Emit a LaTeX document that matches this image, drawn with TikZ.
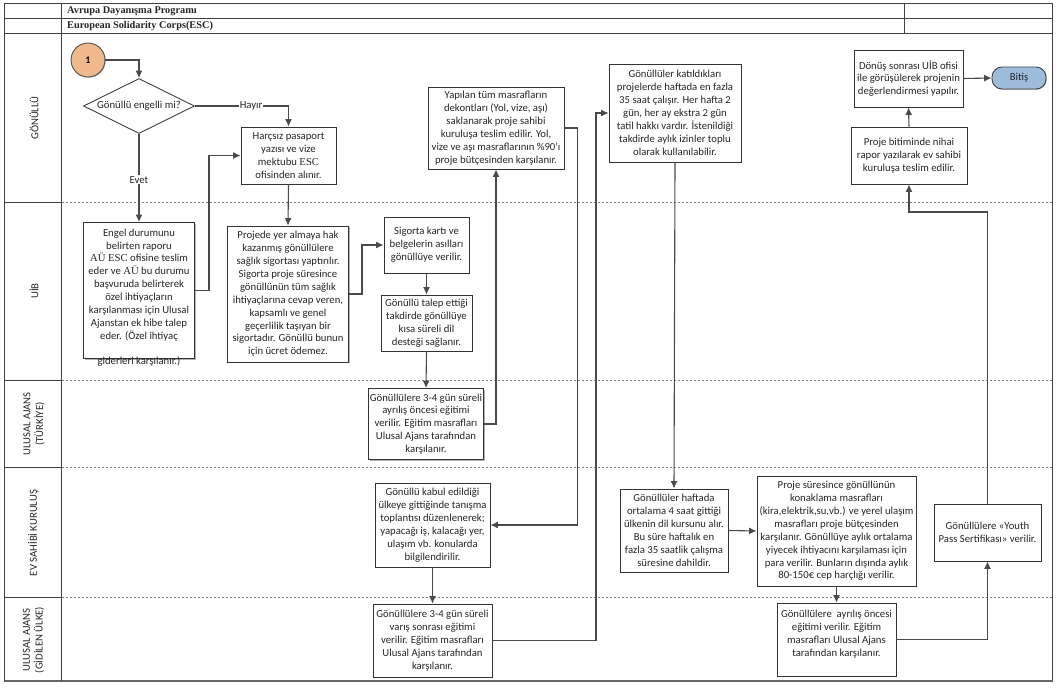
\documentclass[tikz,border=0pt]{standalone}
\usepackage{fontspec}
\setmainfont{Carlito}
\newfontfamily\titlefont{Liberation Serif}
\usetikzlibrary{shadows,shapes.geometric,arrows.meta}
\definecolor{linegray}{HTML}{4A4A4A}
\definecolor{startorange}{HTML}{EFB98B}
\definecolor{endblue}{HTML}{9DBCDC}
\tikzset{
	frame/.style={black!75, line width=1pt},
	lane/.style={black!50, line width=0.9pt, dash pattern=on 2pt off 2pt},
	boxnode/.style={draw=black!80, line width=0.9pt, fill=white, text=black!85, align=center, inner sep=0pt, font=\fontsize{10.7}{12.9}\selectfont, drop shadow={shadow xshift=1pt, shadow yshift=-1pt, fill=black, opacity=0.3}},
	lanetext/.style={rotate=90, align=center, text=black!85, font=\fontsize{10.7}{12.6}\selectfont},
	titletext/.style={anchor=west, inner sep=0pt, text=black!85, font=\titlefont\bfseries\fontsize{10.3}{12}\selectfont},
	arrow/.style={-{Latex[length=7.5pt,width=7pt]}, linegray, line width=1.1pt},
	answer/.style={fill=white, text=black!85, inner sep=1pt, font=\fontsize{10.7}{12}\selectfont}
}
\begin{document}
\begin{tikzpicture}[x=1pt, y=-1pt]
	\useasboundingbox (0,0) rectangle (1058,689);
	
	\draw[frame] (4.5,3) rectangle (1052.5,681);
	\draw[frame] (4.5,18) -- (1052.5,18);
	\draw[frame, line width=1.3pt] (4.5,33.5) -- (1052.5,33.5);
	\draw[frame, line width=1.5pt, black!60] (4.5,681) -- (1052.5,681);
	\draw[frame] (61.5,3) -- (61.5,681);
	\draw[frame] (904,3) -- (904,33.5);
	
	\foreach \y in {202,380,467,597} {
		\draw[frame] (4.5,\y) -- (61.5,\y);
		\draw[lane] (61.5,\y) -- (1052.5,\y);
	}
	
	\node (program) at (67,11) [titletext] {Avrupa Dayanışma Programı};
	\node (corps) at (67,26) [titletext] {European Solidarity Corps(ESC)};
	
	\node (gonullu) at (34,118) [lanetext] {GÖNÜLLÜ};
	\node (uib) at (34,291) [lanetext] {UİB};
	\node (turkiye) at (34,424) [lanetext] {ULUSAL AJANS\\(TÜRKİYE)};
	\node (kurulus) at (33.5,533) [lanetext] {EV SAHİBİ KURULUŞ};
	\node (gidilen) at (33.5,640) [lanetext] {ULUSAL AJANS\\(GİDİLEN ÜLKE)};
	
	\node (start) at (88,60) [draw=black!70, line width=0.9pt, fill=startorange, circle, minimum size=34pt, inner sep=0pt, font=\bfseries\fontsize{10}{12}\selectfont, drop shadow={shadow xshift=0.8pt, shadow yshift=-0.8pt, fill=black, opacity=0.25}] {1};
	\node (engelli) at (139,106) [draw=black!75, line width=0.9pt, fill=white, text=black!85, diamond, aspect=2, minimum width=111pt, minimum height=55pt, inner sep=0pt, font=\fontsize{10.7}{12.9}\selectfont] {Gönüllü engelli mi?};
	
	\node (pasaport) at (288.5,155.5) [boxnode, minimum width=95pt, minimum height=57pt] {Harçsız pasaport\\yazısı ve vize\\mektubu {\titlefont ESC}\\ofisinden alınır.};
	\node (engel) at (139,290.5) [boxnode, minimum width=111pt, minimum height=136pt] {Engel durumunu\\belirten raporu\\{\titlefont AÜ ESC} ofisine teslim\\eder ve {\titlefont AÜ} bu durumu\\başvuruda belirterek\\özel ihtiyaçların\\karşılanması için Ulusal\\Ajanstan ek hibe talep\\eder. (Özel ihtiyaç\\ \mbox{}};
	\node (gider) at (139,361) [inner sep=0pt, text=black!85, font=\fontsize{10.7}{12.9}\selectfont] {giderleri karşılanır.)};
	\node (sigorta) at (288,294) [boxnode, minimum width=121pt, minimum height=136pt] {Projede yer almaya hak\\kazanmış gönüllülere\\sağlık sigortası yaptırılır.\\Sigorta proje süresince\\gönüllünün tüm sağlık\\ihtiyaçlarına cevap veren,\\kapsamlı ve genel\\geçerlilik taşıyan bir\\sigortadır. Gönüllü bunun\\için ücret ödemez.};
	\node (kart) at (426.5,245) [boxnode, minimum width=85pt, minimum height=56pt] {Sigorta kartı ve\\belgelerin asılları\\gönüllüye verilir.};
	\node (dil) at (426.5,323) [boxnode, minimum width=91pt, minimum height=56pt] {Gönüllü talep ettiği\\takdirde gönüllüye\\kısa süreli dil\\desteği sağlanır.};
	\node (ayrilis) at (426,424) [boxnode, minimum width=115pt, minimum height=71pt] {Gönüllülere 3-4 gün süreli\\ayrılış öncesi eğitimi\\verilir. Eğitim masrafları\\Ulusal Ajans tarafından\\karşılanır.};
	\node (dekont) at (496,128) [boxnode, minimum width=136pt, minimum height=82pt] {Yapılan tüm masrafların\\dekontları (Yol, vize, aşı)\\saklanarak proje sahibi\\kuruluşa teslim edilir. Yol,\\vize ve aşı masraflarının \%90'ı\\proje bütçesinden karşılanır.};
	\node (kabul) at (432.5,525) [boxnode, minimum width=115pt, minimum height=84pt] {Gönüllü kabul edildiği\\ülkeye gittiğinde tanışma\\toplantısı düzenlenerek;\\yapacağı iş, kalacağı yer,\\ulaşım vb. konularda\\bilgilendirilir.};
	\node (varis) at (432.5,640.5) [boxnode, minimum width=119pt, minimum height=73pt] {Gönüllülere 3-4 gün süreli\\varış sonrası eğitimi\\verilir. Eğitim masrafları\\Ulusal Ajans tarafından\\karşılanır.};
	\node (calisma) at (675,113) [boxnode, minimum width=132pt, minimum height=98pt] {Gönüllüler katıldıkları\\projelerde haftada en fazla\\35 saat çalışır. Her hafta 2\\gün, her ay ekstra 2 gün\\tatil hakkı vardır. İstenildiği\\takdirde aylık izinler toplu\\olarak kullanılabilir.};
	\node (kurs) at (674,530.5) [boxnode, minimum width=108pt, minimum height=83pt] {Gönüllüler haftada\\ortalama 4 saat gittiği\\ülkenin dil kursunu alır.\\Bu süre haftalık en\\fazla 35 saatlik çalışma\\süresine dahildir.};
	\node (masraf) at (836.5,531) [boxnode, minimum width=159pt, minimum height=110pt] {Proje süresince gönüllünün\\konaklama masrafları\\(kira,elektrik,su,vb.) ve yerel ulaşım\\masrafları proje bütçesinden\\karşılanır. Gönüllüye aylık ortalama\\yiyecek ihtiyacını karşılaması için\\para verilir. Bunların dışında aylık\\80-150€ cep harçlığı verilir.};
	\node (oncesi) at (836.5,639.5) [boxnode, minimum width=119pt, minimum height=73pt] {Gönüllülere\ \ ayrılış öncesi\\eğitimi verilir. Eğitim\\masrafları Ulusal Ajans\\tarafından karşılanır.\\ \mbox{}};
	\node (youth) at (987.5,532.5) [boxnode, minimum width=107pt, minimum height=57pt] {Gönüllülere «Youth\\Pass Sertifikası» verilir.};
	\node (rapor) at (909,155.5) [boxnode, minimum width=116pt, minimum height=57pt] {Proje bitiminde nihai\\rapor yazılarak ev sahibi\\kuruluşa teslim edilir.};
	\node (donus) at (908.5,78.5) [boxnode, minimum width=109pt, minimum height=57pt] {Dönüş sonrası UİB ofisi\\ile görüşülerek projenin\\değerlendirmesi yapılır.};
	\node (bitis) at (1019,78) [draw=black!75, line width=0.9pt, fill=endblue, text=black!85, rounded corners=10pt, minimum width=54pt, minimum height=22pt, inner sep=0pt, font=\fontsize{10.7}{12.9}\selectfont, drop shadow={shadow xshift=0.8pt, shadow yshift=-0.8pt, fill=black, opacity=0.25}] {Bitiş};
	
	\coordinate (turn) at (987.5,212);
	
	\draw[arrow] (start.east) -| (engelli.north);
	\draw[arrow] (engelli.east) -| node[answer, pos=0.3] {Hayır} (pasaport.north);
	\draw[arrow] (engelli.south) -- node[answer, pos=0.52] {Evet} (engel.north);
	\draw[arrow] (engel.east) -- ++(14,0) |- (pasaport.west);
	\draw[arrow] (pasaport.south) -- (sigorta.north);
	\draw[arrow] (sigorta.east) -- ++(13,0) |- (kart.west);
	\draw[arrow] (kart.south) -- (dil.north);
	\draw[arrow] (dil.south) -- (ayrilis.north);
	\draw[arrow] (ayrilis.east) -| (dekont.south);
	\draw[arrow] (dekont.east) -- ++(13,0) |- (kabul.east);
	\draw[arrow] (kabul.south) -- (varis.north);
	\draw[arrow] (varis.east) -- ++(103.5,0) |- (calisma.west);
	\draw[arrow] (calisma.south) -- (kurs.north);
	\draw[arrow] (kurs.east) -- (masraf.west);
	\draw[arrow] (masraf.south) -- (oncesi.north);
	\draw[arrow] (oncesi.east) -| (youth.south);
	\draw[arrow] (youth.north) -- (turn) -| (rapor.south);
	\draw[arrow] (rapor.north) -- (donus.south);
	\draw[arrow] (donus.east) -- (bitis.west);
	
\end{tikzpicture}
\end{document}
